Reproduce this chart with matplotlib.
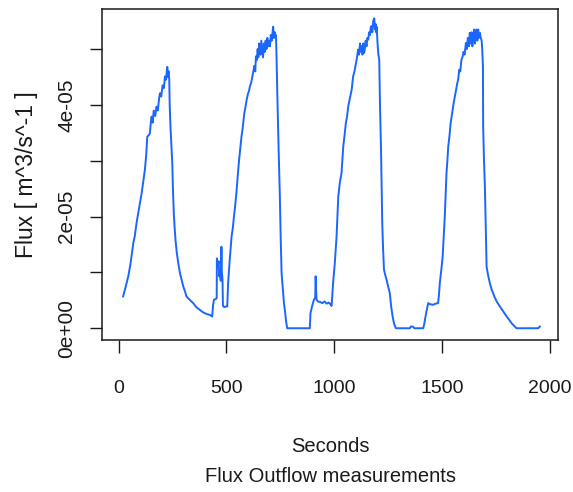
import numpy as np
import matplotlib.pyplot as plt

# time [s] and flux [1e-05 m^3/s]
t = [21, 30, 45, 55, 68, 75, 83, 95, 107, 115, 122, 128, 133, 140, 145, 150, 153, 158, 163, 170,
     176, 182, 188, 192, 198, 204, 210, 215, 220, 224, 226, 229, 232, 235, 237, 241, 245, 249, 252, 256,
     260, 264, 270, 277, 284, 292, 300, 308, 315, 325, 335, 346, 360, 377, 390, 405, 423, 434, 438, 442,
     450, 455, 456, 460, 464, 467, 470, 474, 477, 479, 482, 484, 490, 500, 504, 508, 515, 524, 530, 535,
     541, 547, 553, 559, 565, 570, 576, 583, 588, 594, 600, 605, 609, 615, 620, 624, 630, 634, 637, 641,
     645, 648, 652, 655, 658, 662, 666, 670, 674, 678, 682, 686, 690, 694, 698, 702, 706, 710, 714, 717,
     720, 724, 728, 730, 733, 736, 742, 748, 752, 756, 762, 767, 772, 777, 782, 887, 890, 898, 906, 912,
     914, 916, 918, 925, 935, 945, 955, 965, 975, 985, 988, 995, 1003, 1011, 1019, 1026, 1034, 1042, 1048, 1054,
     1060, 1065, 1072, 1081, 1085, 1088, 1094, 1101, 1106, 1111, 1115, 1120, 1124, 1127, 1131, 1135, 1139, 1142, 1146, 1150,
     1154, 1158, 1162, 1166, 1170, 1173, 1177, 1181, 1186, 1189, 1192, 1195, 1197, 1201, 1205, 1209, 1212, 1217, 1223, 1227,
     1231, 1237, 1243, 1250, 1258, 1264, 1271, 1278, 1286, 1351, 1355, 1365, 1372, 1413, 1418, 1421, 1428, 1436, 1445, 1459,
     1470, 1482, 1486, 1490, 1497, 1503, 1508, 1513, 1517, 1521, 1525, 1529, 1535, 1540, 1545, 1549, 1555, 1560, 1566, 1571,
     1575, 1580, 1585, 1590, 1596, 1600, 1605, 1611, 1615, 1620, 1625, 1629, 1633, 1637, 1641, 1645, 1649, 1653, 1657, 1660,
     1664, 1668, 1672, 1676, 1680, 1684, 1686, 1690, 1691, 1695, 1699, 1703, 1707, 1714, 1722, 1730, 1737, 1745, 1755, 1769,
     1785, 1800, 1812, 1823, 1835, 1846, 1946, 1954]
flux = [0.57, 0.70, 0.93, 1.15, 1.52, 1.65, 1.88, 2.15, 2.42, 2.65, 2.84, 3.10, 3.43, 3.46, 3.49, 3.70, 3.79, 3.68, 3.90, 3.80,
        3.97, 3.90, 4.12, 4.21, 4.15, 4.35, 4.30, 4.51, 4.45, 4.62, 4.68, 4.50, 4.60, 4.45, 4.00, 3.58, 3.25, 2.96, 2.50, 2.06,
        1.80, 1.58, 1.35, 1.16, 1.00, 0.87, 0.75, 0.66, 0.57, 0.53, 0.49, 0.45, 0.38, 0.33, 0.29, 0.26, 0.24, 0.21, 0.40, 0.51,
        0.52, 0.54, 1.25, 1.10, 1.20, 0.93, 1.00, 0.85, 1.46, 1.00, 0.87, 0.40, 0.38, 0.39, 0.39, 0.81, 1.20, 1.64, 1.80, 2.00,
        2.20, 2.45, 2.75, 3.02, 3.25, 3.43, 3.60, 3.85, 3.95, 4.09, 4.20, 4.25, 4.33, 4.40, 4.50, 4.57, 4.70, 4.60, 4.87, 4.80,
        5.00, 4.85, 5.10, 5.05, 4.90, 5.15, 5.00, 4.85, 5.10, 4.95, 5.15, 5.00, 5.20, 5.05, 5.15, 5.05, 5.25, 5.15, 5.30, 5.40,
        5.20, 5.30, 5.20, 5.25, 4.80, 4.24, 3.25, 2.36, 1.60, 0.99, 0.70, 0.45, 0.30, 0.12, 0.00, 0.00, 0.27, 0.40, 0.51, 0.55,
        0.93, 0.70, 0.51, 0.48, 0.47, 0.45, 0.48, 0.44, 0.46, 0.42, 0.40, 0.81, 1.17, 1.64, 2.36, 2.60, 2.78, 3.25, 3.45, 3.67,
        3.80, 3.97, 4.10, 4.27, 4.40, 4.51, 4.60, 4.75, 4.85, 4.99, 4.90, 5.10, 4.95, 5.05, 4.90, 5.10, 4.93, 5.00, 5.15, 5.05,
        5.20, 5.17, 5.30, 5.25, 5.40, 5.41, 5.30, 5.50, 5.55, 5.35, 5.45, 5.30, 5.40, 5.11, 4.90, 4.81, 4.09, 3.25, 1.88, 1.40,
        1.05, 0.95, 0.87, 0.75, 0.63, 0.40, 0.21, 0.08, 0.00, 0.00, 0.03, 0.03, 0.00, 0.00, 0.08, 0.15, 0.30, 0.45, 0.43, 0.42,
        0.44, 0.45, 0.60, 0.81, 1.05, 1.28, 1.65, 2.00, 2.40, 2.78, 3.00, 3.25, 3.45, 3.67, 3.80, 3.91, 4.05, 4.15, 4.28, 4.39,
        4.45, 4.63, 4.60, 4.80, 4.87, 4.95, 4.90, 5.11, 5.00, 5.20, 5.05, 5.29, 5.10, 5.30, 5.05, 5.23, 5.35, 5.10, 5.30, 5.35,
        5.15, 5.35, 5.20, 5.29, 5.20, 5.15, 5.05, 4.69, 3.61, 3.00, 2.54, 1.80, 1.10, 0.95, 0.81, 0.70, 0.63, 0.55, 0.47, 0.39,
        0.30, 0.21, 0.15, 0.09, 0.04, 0.00, 0.00, 0.03]

x_ticks = [0, 500, 1000, 1500, 2000]
y_ticks = [0, 1e-05, 2e-05, 3e-05, 4e-05, 5e-05]
y_ticklabels = ['0e+00', '', '2e-05', '', '4e-05', '']

t = np.array(t)
flux = np.array(flux) * 1e-05

plt.rcParams['font.family'] = ['Liberation Sans', 'DejaVu Sans']
ink = '#1a1a1a'

fig = plt.figure(figsize=(5.73, 4.92), dpi=100)
ax = fig.add_axes([0.178, 0.309, 0.795, 0.673])

ax.plot(t, flux, color='#1a66ff', lw=1.4)

ax.set_xlim(-77, 2036)
ax.set_ylim(-0.21e-05, 5.72e-05)

ax.set_xticks(x_ticks)
ax.set_xticklabels([str(v) for v in x_ticks], fontsize=14, color=ink)
ax.set_yticks(y_ticks)
ax.set_yticklabels(y_ticklabels, fontsize=15, rotation=90, va='center', color=ink)
ax.tick_params(axis='x', length=9.5, width=1.0, pad=19, color=ink)
ax.tick_params(axis='y', length=8.5, width=1.0, pad=10, color=ink)

for s in ax.spines.values():
    s.set_color(ink)
    s.set_linewidth(1.1)

ax.set_ylabel('Flux [ m^3/s^-1 ]', fontsize=16.5, color=ink, labelpad=14)
fig.text(0.576, 1 - 446 / 492, 'Seconds', fontsize=14.5, ha='center', va='center', color=ink)
fig.text(0.576, 1 - 476 / 492, 'Flux Outflow measurements', fontsize=14.5, ha='center', va='center',
         color=ink)

fig.savefig('out.png', dpi=100)
